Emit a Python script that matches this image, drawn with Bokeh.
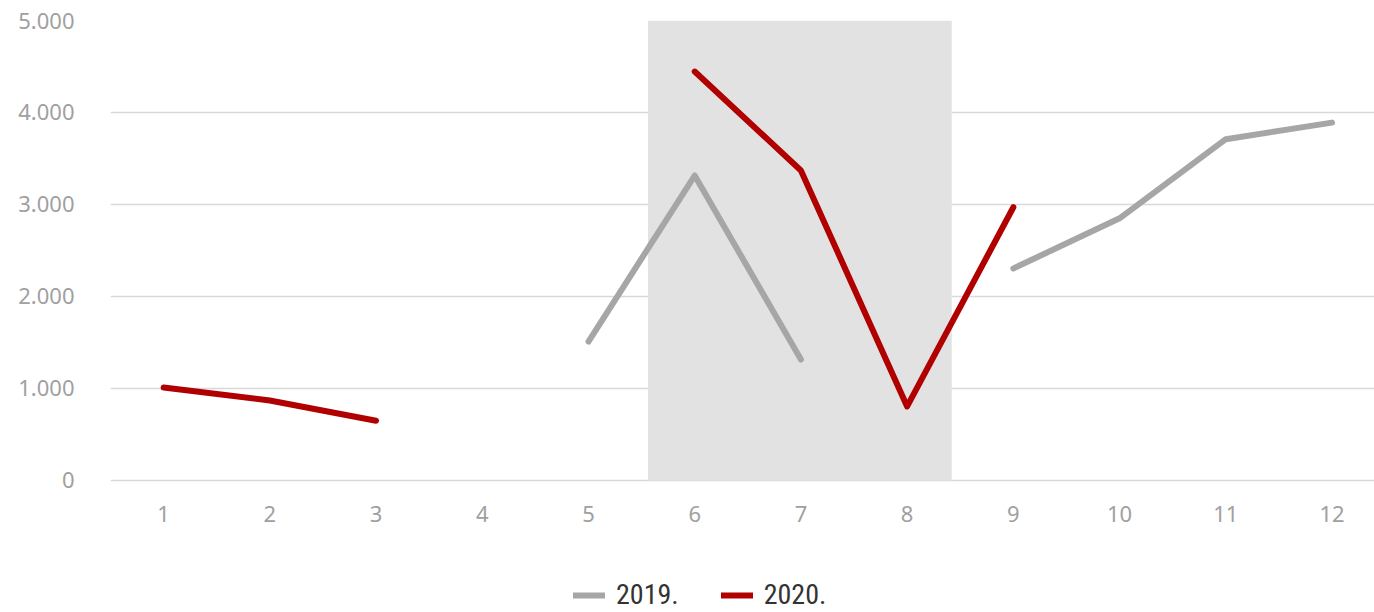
from bokeh.plotting import figure
from bokeh.models import Range1d, FixedTicker, BoxAnnotation, Legend, LegendItem
from bokeh.embed import file_html
from bokeh.resources import INLINE
import numpy as np

months = [1, 2, 3, 4, 5, 6, 7, 8, 9, 10, 11, 12]
y2019 = [None, None, None, None, 1510, 3315, 1315, None, 2305, 2850, 3710, 3890]
y2020 = [1010, 870, 650, None, None, 4445, 3370, 805, 2970, None, None, None]
y_ticks = [0, 1000, 2000, 3000, 4000, 5000]
y_tick_labels = ["0", "1.000", "2.000", "3.000", "4.000", "5.000"]
series_names = ["2019.", "2020."]
highlight = (5.56, 8.42)

def arr(v):
    return np.array([np.nan if x is None else x for x in v], dtype=float)

# frame extends below the value axis so that the legend sits inside it
p = figure(width=1374, height=612, output_backend="svg", toolbar_location=None,
           x_range=Range1d(0.50, 12.40), y_range=Range1d(-1435, 5000),
           min_border_left=110, min_border_right=0, min_border_top=20, min_border_bottom=0)
p.outline_line_color = None
p.background_fill_color = "white"

band = BoxAnnotation(left=highlight[0], right=highlight[1], bottom=0,
                     fill_color="#e2e2e2", fill_alpha=1.0, line_color=None, level="underlay")
p.add_layout(band)

r1 = p.line(months, arr(y2019), line_color="#a6a6a6", line_width=6,
            line_cap="round", line_join="round")
r2 = p.line(months, arr(y2020), line_color="#b00000", line_width=6,
            line_cap="round", line_join="round")

p.xgrid.visible = False
p.ygrid.grid_line_color = "#d9d9d9"
p.ygrid.grid_line_width = 1.5
p.ygrid.level = "image"

p.yaxis.ticker = FixedTicker(ticks=y_ticks)
p.yaxis.major_label_overrides = {t: l for t, l in zip(y_ticks, y_tick_labels)}
p.xaxis.ticker = FixedTicker(ticks=months)
p.xaxis.fixed_location = 0
for ax in (p.xaxis, p.yaxis):
    ax.axis_line_color = None
    ax.major_tick_line_color = None
    ax.minor_tick_line_color = None
    ax.major_label_text_font = "Noto Sans"
    ax.major_label_text_font_size = "22px"
    ax.major_label_text_color = "#a0a0a0"
p.yaxis.major_label_standoff = 30
p.xaxis.major_label_standoff = 20

legend = Legend(items=[LegendItem(label=series_names[0], renderers=[r1]),
                       LegendItem(label=series_names[1], renderers=[r2])],
                orientation="horizontal", location=(463, 1),
                glyph_width=32, glyph_height=22, label_height=22,
                label_standoff=11, spacing=42, padding=0, margin=0,
                label_text_font="Roboto Condensed, Liberation Sans Narrow, Roboto",
                label_text_font_size="28px",
                label_text_color="#333333", background_fill_alpha=0,
                border_line_color=None)
p.add_layout(legend, "center")

open("out.html", "w").write(file_html(p, INLINE))
